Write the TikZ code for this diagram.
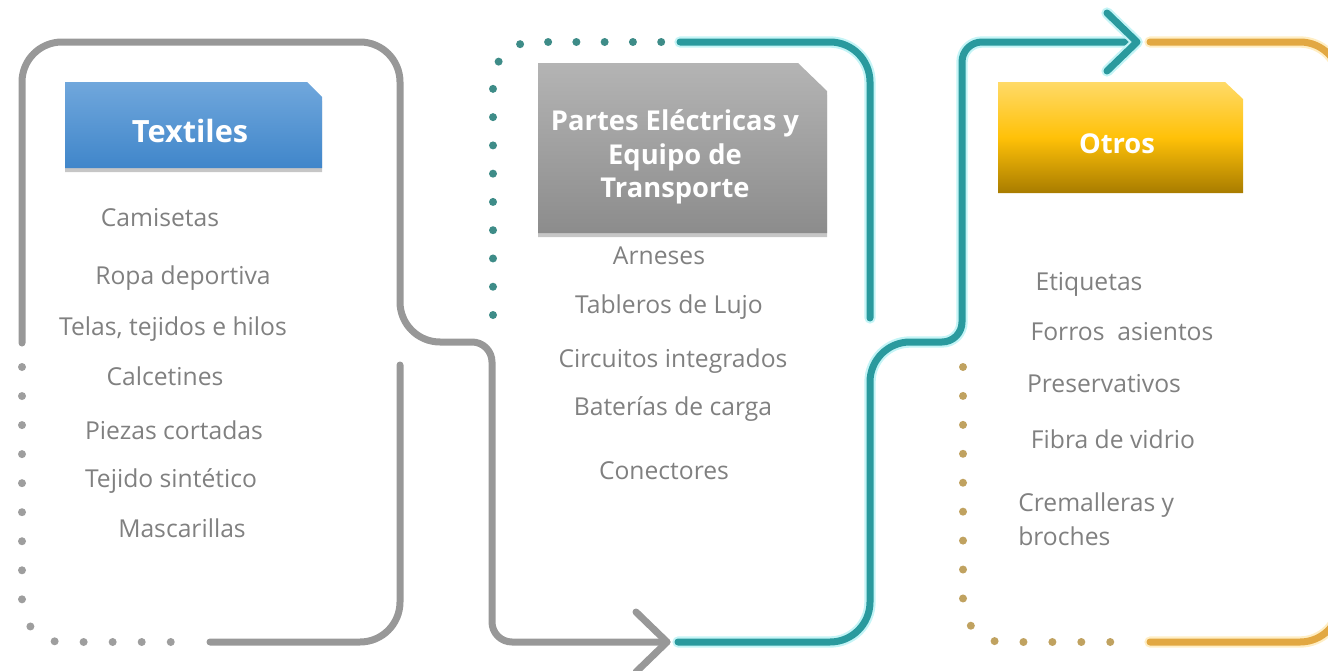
\documentclass[tikz,border=0pt]{standalone}
\usepackage{fontspec}
\setmainfont{Open Sans}
\usetikzlibrary{shadows}
\definecolor{lineGray}{RGB}{152,152,152}
\definecolor{dotGray}{RGB}{158,158,158}
\definecolor{tealLine}{RGB}{42,154,158}
\definecolor{tealGlow}{RGB}{196,244,246}
\definecolor{tealDot}{RGB}{62,140,136}
\definecolor{goldLine}{RGB}{226,168,66}
\definecolor{goldGlow}{RGB}{255,238,196}
\definecolor{goldDot}{RGB}{192,162,96}
\definecolor{itemGray}{RGB}{128,128,128}
\definecolor{blueTop}{RGB}{112,167,220}
\definecolor{blueBot}{RGB}{64,134,202}
\definecolor{grayTop}{RGB}{180,180,180}
\definecolor{grayBot}{RGB}{140,140,140}
\definecolor{goldTop}{RGB}{255,218,104}
\definecolor{goldMid}{RGB}{255,193,8}
\definecolor{goldBot}{RGB}{168,124,0}
\tikzset{
	grayline/.style={line width=5.25pt,draw=lineGray},
	tealline/.style={line width=5.25pt,draw=tealLine,preaction={draw=tealGlow,line width=8.5pt}},
	goldline/.style={line width=5.25pt,draw=goldLine,preaction={draw=goldGlow,line width=8.5pt}},
	dotline/.style={line width=6pt,rounded corners=30pt},
	itemtext/.style={inner sep=0pt,text=itemGray,font=\fontsize{18.5}{25.5}\selectfont,anchor=base},
	headtext/.style={inner sep=0pt,text=white,anchor=base},
	headshadow/.style={drop shadow={shadow xshift=0pt,shadow yshift=-3pt,opacity=0.45}}
}
\begin{document}
\begin{tikzpicture}[line cap=round,line join=round,x=0.75pt,y=-0.75pt]
		\useasboundingbox (0,0) rectangle (1328,671);
		\clip (0,0) rectangle (1328,671);
		% left loop
		\draw [grayline] (22,343) [rounded corners=30pt] -- (22,42) -- (400,42) -- (400,342) [rounded corners=15pt] -- (492,342) -- (492,642) [rounded corners=30pt] -- (667,642);
		\draw [grayline] (636,612) -- (667,642) -- (636,672);
		\draw [grayline,rounded corners=30pt] (400,365) -- (400,642) -- (210,642);
		\draw [dotline,draw=dotGray,dash pattern=on 0pt off 21.78pt] (22,367) |- (172,642);
		% middle loop
		\draw [tealline,rounded corners=30pt] (680,42) -- (870,42) -- (870,318);
		\draw [tealline] (678,642) [rounded corners=30pt] -- (870,642) -- (870,342) [rounded corners=15pt] -- (962,342) -- (962,42) [rounded corners=30pt] -- (1137,42);
		\draw [tealline] (1107,13) -- (1137,42) -- (1107,71);
		\draw [dotline,draw=tealDot,dash pattern=on 0pt off 21.2pt] (493,315) |- (664,42);
		% right loop
		\draw [goldline,rounded corners=30pt] (1150,42) -- (1340,42) -- (1340,642) -- (1150,642);
		\draw [dotline,draw=goldDot,dash pattern=on 0pt off 21.7pt] (963,367) |- (1111,642);
		% headers
		\path [top color=blueTop,bottom color=blueBot,headshadow] (65,82) -- (307,82) -- (322,97) -- (322,168) -- (65,168) -- cycle;
		\node (textiles) [headtext,font=\bfseries\fontsize{23}{28}\selectfont] at (190,142) {Textiles};
		\path [top color=grayTop,bottom color=grayBot,headshadow] (538,63) -- (798,63) -- (827,91) -- (827,233) -- (538,233) -- cycle;
		\node (partes) [headtext,anchor=center,align=center,font=\bfseries\fontsize{20.5}{25}\selectfont] at (675,157) {Partes Eléctricas y\\Equipo de\\Transporte};
		\path [top color=goldTop,bottom color=goldBot,middle color=goldMid] (998,82) -- (1225,82) -- (1243,99) -- (1243,193) -- (998,193) -- cycle;
		\node (otros) [headtext,font=\bfseries\fontsize{20.5}{25}\selectfont] at (1117,153) {Otros};
		% items
		\node (cami) [itemtext] at (160,226) {Camisetas};
		\node (ropa) [itemtext] at (183,284) {Ropa deportiva};
		\node (telas) [itemtext] at (173,335) {Telas, tejidos e hilos};
		\node (calce) [itemtext] at (165,385) {Calcetines};
		\node (piezas) [itemtext] at (174,439) {Piezas cortadas};
		\node (sint) [itemtext] at (171,487) {Tejido sintético};
		\node (masca) [itemtext] at (182,537) {Mascarillas};
		\node (arn) [itemtext] at (659,264) {Arneses};
		\node (tabl) [itemtext] at (669,313) {Tableros de Lujo};
		\node (circ) [itemtext] at (673,367) {Circuitos integrados};
		\node (bat) [itemtext] at (673,415) {Baterías de carga};
		\node (conec) [itemtext] at (664,479) {Conectores};
		\node (etiq) [itemtext] at (1089,290) {Etiquetas};
		\node (forros) [itemtext] at (1122,340) {Forros~~asientos};
		\node (pres) [itemtext] at (1104,392) {Preservativos};
		\node (fibra) [itemtext] at (1113,448) {Fibra de vidrio};
		\node (crem) [itemtext,anchor=north west,align=left] at (1018,492) {Cremalleras y\\broches};
\end{tikzpicture}
\end{document}
